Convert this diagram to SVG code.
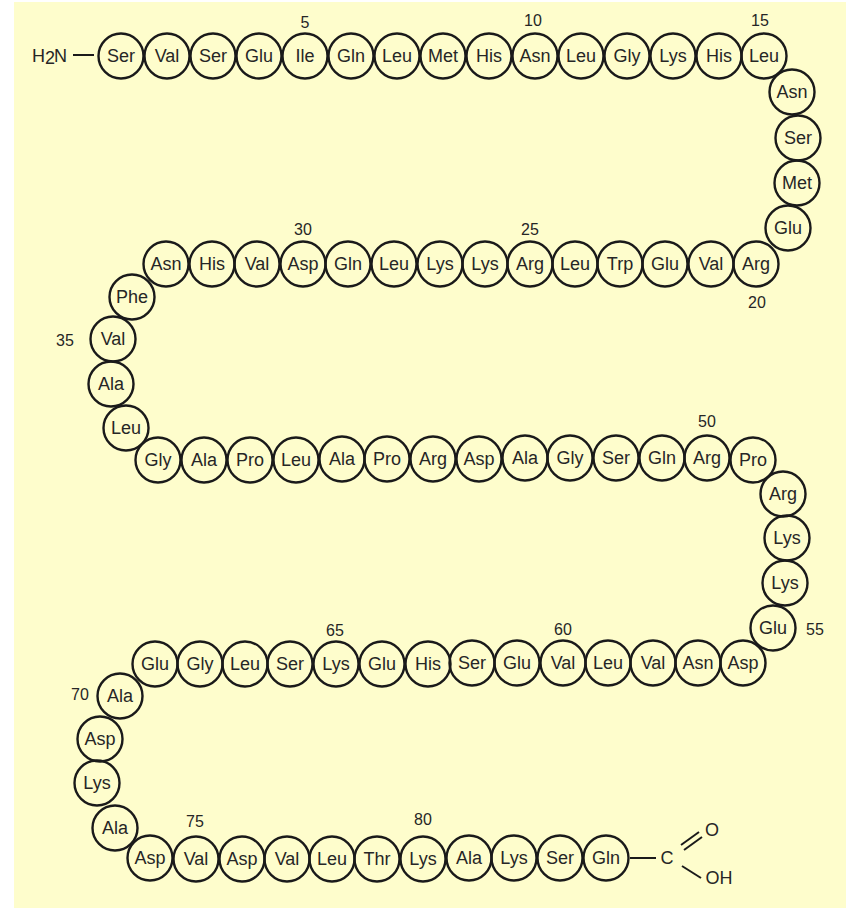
<svg xmlns="http://www.w3.org/2000/svg" width="846" height="908" viewBox="0 0 846 908">
<style>
.bg{fill:#fefdcc}
.res circle{fill:none;stroke:#1a1a1a;stroke-width:2.4}
.res text{font-family:"Liberation Sans",Arial,sans-serif;font-size:18px;fill:#262626;text-anchor:middle}
.num{font-family:"Liberation Sans",Arial,sans-serif;font-size:16px;fill:#262626;text-anchor:middle}
.chem{font-family:"Liberation Sans",Arial,sans-serif;font-size:18px;fill:#262626}
.bond{stroke:#1a1a1a;stroke-width:2;fill:none}
</style>
<rect class="bg" x="14" y="2" width="832" height="906"/>
<g id="connectors">
<line class="bond" x1="73" y1="55" x2="94" y2="55"/>
<line class="bond" x1="630" y1="858" x2="656" y2="858"/>
<line class="bond" x1="681" y1="845" x2="699" y2="832"/>
<line class="bond" x1="684" y1="850" x2="702" y2="837"/>
<line class="bond" x1="682" y1="866" x2="701" y2="878"/>
</g>
<g id="nterm"><text class="chem" x="32" y="62">H</text><text class="chem" x="45" y="64" font-size="12">2</text><text class="chem" x="54" y="62">N</text></g>
<g id="cterm"><text class="chem" x="667" y="864" text-anchor="middle">C</text><text class="chem" x="712" y="836" text-anchor="middle">O</text><text class="chem" x="719" y="884" text-anchor="middle">OH</text></g>
<g id="r1" class="res"><circle cx="121" cy="56" r="22.5"/><text x="121" y="62">Ser</text></g>
<g id="r2" class="res"><circle cx="167" cy="56" r="22.5"/><text x="167" y="62">Val</text></g>
<g id="r3" class="res"><circle cx="213" cy="56" r="22.5"/><text x="213" y="62">Ser</text></g>
<g id="r4" class="res"><circle cx="259" cy="56" r="22.5"/><text x="259" y="62">Glu</text></g>
<g id="r5" class="res"><circle cx="305" cy="56" r="22.5"/><text x="305" y="62">Ile</text></g>
<g id="r6" class="res"><circle cx="351" cy="56" r="22.5"/><text x="351" y="62">Gln</text></g>
<g id="r7" class="res"><circle cx="397" cy="56" r="22.5"/><text x="397" y="62">Leu</text></g>
<g id="r8" class="res"><circle cx="443" cy="56" r="22.5"/><text x="443" y="62">Met</text></g>
<g id="r9" class="res"><circle cx="489" cy="56" r="22.5"/><text x="489" y="62">His</text></g>
<g id="r10" class="res"><circle cx="535" cy="56" r="22.5"/><text x="535" y="62">Asn</text></g>
<g id="r11" class="res"><circle cx="581" cy="56" r="22.5"/><text x="581" y="62">Leu</text></g>
<g id="r12" class="res"><circle cx="627" cy="56" r="22.5"/><text x="627" y="62">Gly</text></g>
<g id="r13" class="res"><circle cx="673" cy="56" r="22.5"/><text x="673" y="62">Lys</text></g>
<g id="r14" class="res"><circle cx="719" cy="56" r="22.5"/><text x="719" y="62">His</text></g>
<g id="r15" class="res"><circle cx="764" cy="56" r="22.5"/><text x="764" y="62">Leu</text></g>
<g id="r16" class="res"><circle cx="792" cy="92" r="22.5"/><text x="792" y="98">Asn</text></g>
<g id="r17" class="res"><circle cx="798" cy="138" r="22.5"/><text x="798" y="144">Ser</text></g>
<g id="r18" class="res"><circle cx="797" cy="183" r="22.5"/><text x="797" y="189">Met</text></g>
<g id="r19" class="res"><circle cx="788" cy="228" r="22.5"/><text x="788" y="234">Glu</text></g>
<g id="r20" class="res"><circle cx="756" cy="264" r="22.5"/><text x="756" y="270">Arg</text></g>
<g id="r21" class="res"><circle cx="711" cy="264" r="22.5"/><text x="711" y="270">Val</text></g>
<g id="r22" class="res"><circle cx="665" cy="264" r="22.5"/><text x="665" y="270">Glu</text></g>
<g id="r23" class="res"><circle cx="620" cy="264" r="22.5"/><text x="620" y="270">Trp</text></g>
<g id="r24" class="res"><circle cx="575" cy="264" r="22.5"/><text x="575" y="270">Leu</text></g>
<g id="r25" class="res"><circle cx="530" cy="264" r="22.5"/><text x="530" y="270">Arg</text></g>
<g id="r26" class="res"><circle cx="485" cy="264" r="22.5"/><text x="485" y="270">Lys</text></g>
<g id="r27" class="res"><circle cx="440" cy="264" r="22.5"/><text x="440" y="270">Lys</text></g>
<g id="r28" class="res"><circle cx="394" cy="264" r="22.5"/><text x="394" y="270">Leu</text></g>
<g id="r29" class="res"><circle cx="348" cy="264" r="22.5"/><text x="348" y="270">Gln</text></g>
<g id="r30" class="res"><circle cx="303" cy="264" r="22.5"/><text x="303" y="270">Asp</text></g>
<g id="r31" class="res"><circle cx="257" cy="264" r="22.5"/><text x="257" y="270">Val</text></g>
<g id="r32" class="res"><circle cx="212" cy="264" r="22.5"/><text x="212" y="270">His</text></g>
<g id="r33" class="res"><circle cx="166" cy="264" r="22.5"/><text x="166" y="270">Asn</text></g>
<g id="r34" class="res"><circle cx="132" cy="297" r="22.5"/><text x="132" y="303">Phe</text></g>
<g id="r35" class="res"><circle cx="113" cy="339" r="22.5"/><text x="113" y="345">Val</text></g>
<g id="r36" class="res"><circle cx="111" cy="384" r="22.5"/><text x="111" y="390">Ala</text></g>
<g id="r37" class="res"><circle cx="126" cy="428" r="22.5"/><text x="126" y="434">Leu</text></g>
<g id="r38" class="res"><circle cx="158" cy="460" r="22.5"/><text x="158" y="466">Gly</text></g>
<g id="r39" class="res"><circle cx="204" cy="460" r="22.5"/><text x="204" y="466">Ala</text></g>
<g id="r40" class="res"><circle cx="250" cy="460" r="22.5"/><text x="250" y="466">Pro</text></g>
<g id="r41" class="res"><circle cx="296" cy="460" r="22.5"/><text x="296" y="466">Leu</text></g>
<g id="r42" class="res"><circle cx="342" cy="459" r="22.5"/><text x="342" y="465">Ala</text></g>
<g id="r43" class="res"><circle cx="387" cy="459" r="22.5"/><text x="387" y="465">Pro</text></g>
<g id="r44" class="res"><circle cx="433" cy="459" r="22.5"/><text x="433" y="465">Arg</text></g>
<g id="r45" class="res"><circle cx="479" cy="459" r="22.5"/><text x="479" y="465">Asp</text></g>
<g id="r46" class="res"><circle cx="525" cy="458" r="22.5"/><text x="525" y="464">Ala</text></g>
<g id="r47" class="res"><circle cx="570" cy="458" r="22.5"/><text x="570" y="464">Gly</text></g>
<g id="r48" class="res"><circle cx="616" cy="458" r="22.5"/><text x="616" y="464">Ser</text></g>
<g id="r49" class="res"><circle cx="662" cy="458" r="22.5"/><text x="662" y="464">Gln</text></g>
<g id="r50" class="res"><circle cx="707" cy="458" r="22.5"/><text x="707" y="464">Arg</text></g>
<g id="r51" class="res"><circle cx="753" cy="460" r="22.5"/><text x="753" y="466">Pro</text></g>
<g id="r52" class="res"><circle cx="783" cy="494" r="22.5"/><text x="783" y="500">Arg</text></g>
<g id="r53" class="res"><circle cx="787" cy="538" r="22.5"/><text x="787" y="544">Lys</text></g>
<g id="r54" class="res"><circle cx="785" cy="583" r="22.5"/><text x="785" y="589">Lys</text></g>
<g id="r55" class="res"><circle cx="773" cy="628" r="22.5"/><text x="773" y="634">Glu</text></g>
<g id="r56" class="res"><circle cx="743" cy="663" r="22.5"/><text x="743" y="669">Asp</text></g>
<g id="r57" class="res"><circle cx="698" cy="663" r="22.5"/><text x="698" y="669">Asn</text></g>
<g id="r58" class="res"><circle cx="653" cy="663" r="22.5"/><text x="653" y="669">Val</text></g>
<g id="r59" class="res"><circle cx="608" cy="663" r="22.5"/><text x="608" y="669">Leu</text></g>
<g id="r60" class="res"><circle cx="563" cy="663" r="22.5"/><text x="563" y="669">Val</text></g>
<g id="r61" class="res"><circle cx="517" cy="663" r="22.5"/><text x="517" y="669">Glu</text></g>
<g id="r62" class="res"><circle cx="472" cy="663" r="22.5"/><text x="472" y="669">Ser</text></g>
<g id="r63" class="res"><circle cx="428" cy="664" r="22.5"/><text x="428" y="670">His</text></g>
<g id="r64" class="res"><circle cx="382" cy="664" r="22.5"/><text x="382" y="670">Glu</text></g>
<g id="r65" class="res"><circle cx="336" cy="664" r="22.5"/><text x="336" y="670">Lys</text></g>
<g id="r66" class="res"><circle cx="290" cy="664" r="22.5"/><text x="290" y="670">Ser</text></g>
<g id="r67" class="res"><circle cx="245" cy="664" r="22.5"/><text x="245" y="670">Leu</text></g>
<g id="r68" class="res"><circle cx="200" cy="664" r="22.5"/><text x="200" y="670">Gly</text></g>
<g id="r69" class="res"><circle cx="155" cy="664" r="22.5"/><text x="155" y="670">Glu</text></g>
<g id="r70" class="res"><circle cx="120" cy="696" r="22.5"/><text x="120" y="702">Ala</text></g>
<g id="r71" class="res"><circle cx="100" cy="739" r="22.5"/><text x="100" y="745">Asp</text></g>
<g id="r72" class="res"><circle cx="97" cy="783" r="22.5"/><text x="97" y="789">Lys</text></g>
<g id="r73" class="res"><circle cx="115" cy="828" r="22.5"/><text x="115" y="834">Ala</text></g>
<g id="r74" class="res"><circle cx="150" cy="858" r="22.5"/><text x="150" y="864">Asp</text></g>
<g id="r75" class="res"><circle cx="196" cy="859" r="22.5"/><text x="196" y="865">Val</text></g>
<g id="r76" class="res"><circle cx="242" cy="859" r="22.5"/><text x="242" y="865">Asp</text></g>
<g id="r77" class="res"><circle cx="287" cy="859" r="22.5"/><text x="287" y="865">Val</text></g>
<g id="r78" class="res"><circle cx="332" cy="859" r="22.5"/><text x="332" y="865">Leu</text></g>
<g id="r79" class="res"><circle cx="377" cy="859" r="22.5"/><text x="377" y="865">Thr</text></g>
<g id="r80" class="res"><circle cx="423" cy="859" r="22.5"/><text x="423" y="865">Lys</text></g>
<g id="r81" class="res"><circle cx="469" cy="858" r="22.5"/><text x="469" y="864">Ala</text></g>
<g id="r82" class="res"><circle cx="514" cy="858" r="22.5"/><text x="514" y="864">Lys</text></g>
<g id="r83" class="res"><circle cx="560" cy="858" r="22.5"/><text x="560" y="864">Ser</text></g>
<g id="r84" class="res"><circle cx="606" cy="858" r="22.5"/><text x="606" y="864">Gln</text></g>
<g id="numbers">
<text class="num" x="305" y="28">5</text>
<text class="num" x="533" y="26">10</text>
<text class="num" x="760" y="26">15</text>
<text class="num" x="757" y="308">20</text>
<text class="num" x="530" y="235">25</text>
<text class="num" x="303" y="235">30</text>
<text class="num" x="65" y="346">35</text>
<text class="num" x="707" y="427">50</text>
<text class="num" x="815" y="635">55</text>
<text class="num" x="563" y="635">60</text>
<text class="num" x="335" y="636">65</text>
<text class="num" x="80" y="700">70</text>
<text class="num" x="195" y="827">75</text>
<text class="num" x="423" y="825">80</text>
</g>
</svg>
